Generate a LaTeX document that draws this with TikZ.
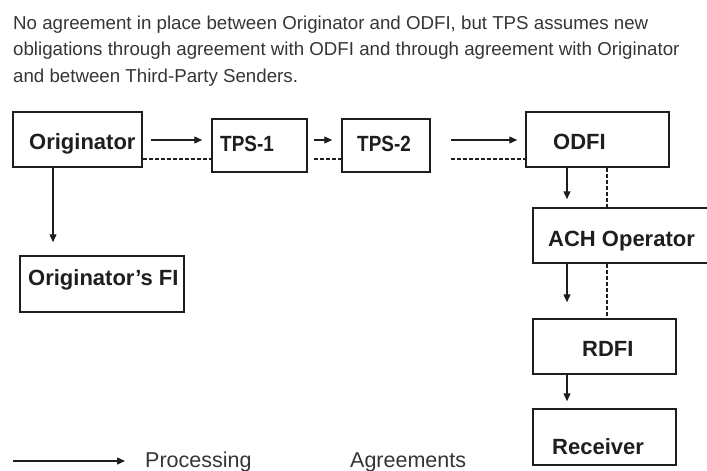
\documentclass[tikz,border=0pt]{standalone}
\usepackage{fontspec}
\setmainfont{Liberation Sans}
\newfontfamily\tpsfont[FakeStretch=0.86]{Liberation Sans Bold}
\usetikzlibrary{arrows.meta}
\definecolor{ink}{HTML}{1E1E1E}
\tikzset{
  box/.style={draw=ink, line width=1.5pt, inner sep=0pt, fill=white},
  lbl/.style={anchor=base west, inner sep=0pt, text=ink, font=\fontsize{22}{26}\selectfont\bfseries},
  tpslbl/.style={anchor=base west, inner sep=0pt, text=ink, font=\fontsize{22}{26}\selectfont\tpsfont},
  ttl/.style={anchor=base west, inner sep=0pt, text=ink!90, font=\fontsize{18.7}{26}\selectfont},
  leg/.style={anchor=base west, inner sep=0pt, text=ink!90, font=\fontsize{21.5}{26}\selectfont},
  proc/.style={draw=ink, line width=1.3pt, -{Triangle[length=8pt,width=7pt]}},
  agr/.style={draw=ink, line width=1.2pt, dash pattern=on 4pt off 2pt},
}
\begin{document}
\begin{tikzpicture}[x=1pt,y=-1pt]
\useasboundingbox (0,0) rectangle (707,471);
\clip (0,0) rectangle (707,471);
% title
\node[ttl] (t1) at (13,29.3) {No agreement in place between Originator and ODFI, but TPS assumes new};
\node[ttl] (t2) at (13,55.5) {obligations through agreement with ODFI and through agreement with Originator};
\node[ttl] (t3) at (13,82) {and between Third-Party Senders.};
% boxes
\node[box, minimum width=129pt, minimum height=55pt] (orig) at (77.5,139.5) {};
\node[box, minimum width=95pt, minimum height=53pt] (tps1) at (259.5,145.5) {};
\node[box, minimum width=88pt, minimum height=53pt] (tps2) at (386,145.5) {};
\node[box, minimum width=143pt, minimum height=55pt] (odfi) at (597.5,139.5) {};
\node[box, minimum width=179pt, minimum height=55pt] (ach) at (622.5,235.5) {};
\node[box, minimum width=143pt, minimum height=55pt] (rdfi) at (604.5,346.5) {};
\node[box, minimum width=143pt, minimum height=56pt] (recv) at (604.5,437) {};
\node[box, minimum width=164pt, minimum height=56pt] (ofi) at (102,284) {};
% labels
\node[lbl] (origT) at (29,149) {Originator};
\node[tpslbl] (tps1T) at (220,151) {TPS-1};
\node[tpslbl] (tps2T) at (357,151) {TPS-2};
\node[lbl] (odfiT) at (553,149) {ODFI};
\node[lbl] (achT) at (548,246) {ACH Operator};
\node[lbl] (rdfiT) at (582,356) {RDFI};
\node[lbl] (recvT) at (552,454) {Receiver};
\node[lbl] (ofiT) at (28,285) {Originator's FI};
% rows / columns for connectors
\coordinate (rowP) at (0,140);
\coordinate (rowA) at (0,159);
\coordinate (colP) at (567,0);
\coordinate (colA) at (607,0);
\coordinate (colO) at (53,0);
% processing arrows
\draw[proc, shorten <=8pt, shorten >=9pt] (orig.east |- rowP) -- (tps1.west |- rowP);
\draw[proc, shorten <=6pt, shorten >=9pt] (tps1.east |- rowP) -- (tps2.west |- rowP);
\draw[proc, shorten <=20pt, shorten >=8pt] (tps2.east |- rowP) -- (odfi.west |- rowP);
\draw[proc, shorten >=8pt] (odfi.south -| colP) -- (ach.north -| colP);
\draw[proc, shorten >=16pt] (ach.south -| colP) -- (rdfi.north -| colP);
\draw[proc, shorten >=7pt] (rdfi.south -| colP) -- (recv.north -| colP);
\draw[proc, shorten >=13pt] (orig.south -| colO) -- (ofi.north -| colO);
% agreements
\draw[agr] (orig.east |- rowA) -- (tps1.west |- rowA);
\draw[agr, shorten <=6pt] (tps1.east |- rowA) -- (tps2.west |- rowA);
\draw[agr, shorten <=20pt] (tps2.east |- rowA) -- (odfi.west |- rowA);
\draw[agr] (odfi.south -| colA) -- (ach.north -| colA);
\draw[agr] (ach.south -| colA) -- (rdfi.north -| colA);
% legend
\coordinate (legA) at (13,461);
\coordinate (legB) at (125,461);
\draw[proc] (legA) -- (legB);
\node[leg] (legP) at (145,467) {Processing};
\node[leg] (legG) at (350,467) {Agreements};
\end{tikzpicture}
\end{document}
